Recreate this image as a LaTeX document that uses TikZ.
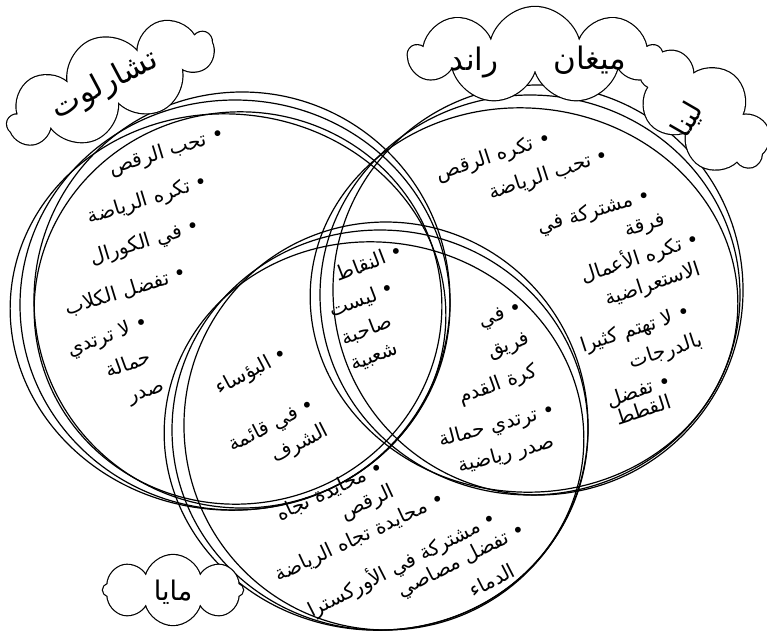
\documentclass[tikz,border=0pt]{standalone}
\usepackage{fontspec}
\newfontfamily\arabicfont[Script=Arabic]{DejaVu Sans}
\TeXXeTstate=1
\usetikzlibrary{shapes.symbols}
\newcommand\artxt[1]{\beginR #1\endR}
\tikzset{
  venn/.style={draw=black,line width=1.2pt},
  itm/.style={font=\arabicfont\fontsize{20}{24}\selectfont,inner sep=0pt},
  nm/.style={font=\arabicfont\fontsize{31}{34}\selectfont,inner sep=0pt},
  cloudA/.style={cloud,cloud ignores aspect,draw=black,fill=white,line width=2.4pt,inner sep=0pt},
  cloudB/.style={cloud,cloud ignores aspect,fill=white,inner sep=0pt},
}
\begin{document}
\begin{tikzpicture}[x=1pt,y=-1pt]
\useasboundingbox (0,0) rectangle (767,637);
% left circle (Charlotte)
\draw[venn] (235,305) ellipse [x radius=215pt,y radius=205pt];
\draw[venn] (242,300) ellipse [x radius=208pt,y radius=208pt,rotate=6];
\draw[venn] (228,312) ellipse [x radius=218pt,y radius=198pt,rotate=-5];
\draw[venn] (238,308) ellipse [x radius=204pt,y radius=196pt,rotate=8];
% right circle (Rand, Megan, Lina)
\draw[venn] (530,295) ellipse [x radius=210pt,y radius=200pt];
\draw[venn] (538,290) ellipse [x radius=205pt,y radius=205pt,rotate=6];
\draw[venn] (524,300) ellipse [x radius=214pt,y radius=192pt,rotate=-5];
% bottom circle (Maya)
\draw[venn] (380,430) ellipse [x radius=208pt,y radius=200pt];
\draw[venn] (386,426) ellipse [x radius=202pt,y radius=204pt,rotate=6];
\draw[venn] (374,436) ellipse [x radius=210pt,y radius=194pt,rotate=-6];
% clouds (union outline)
\node[cloudA,cloud puffs=9,minimum width=220pt,minimum height=95pt,rotate=24] (cc1) at (110,84) {};
\node[cloudA,cloud puffs=9,minimum width=250pt,minimum height=96pt] (cr1) at (535,55) {};
\node[cloudA,cloud puffs=7,minimum width=150pt,minimum height=95pt,rotate=-40] (cl1) at (703,112) {};
\node[cloudA,cloud puffs=8,minimum width=140pt,minimum height=70pt] (cm1) at (173,590) {};
\node[cloudB,cloud puffs=9,minimum width=220pt,minimum height=95pt,rotate=24] (cc2) at (110,84) {};
\node[cloudB,cloud puffs=9,minimum width=250pt,minimum height=96pt] (cr2) at (535,55) {};
\node[cloudB,cloud puffs=7,minimum width=150pt,minimum height=95pt,rotate=-40] (cl2) at (703,112) {};
\node[cloudB,cloud puffs=8,minimum width=140pt,minimum height=70pt] (cm2) at (173,590) {};
% names
\node[nm,rotate=28] (charlotte) at (105,85) {\artxt{تشارلوت}};
\node[nm] (rand) at (474,63) {\artxt{راند}};
\node[nm] (megan) at (590,60) {\artxt{ميغان}};
\node[nm,rotate=60,font=\arabicfont\fontsize{28}{30}\selectfont] (lina) at (688,120) {\artxt{لينا}};
\node[nm,font=\arabicfont\fontsize{27}{30}\selectfont] (maya) at (173,592) {\artxt{مايا}};
% left only
\node[itm,rotate=17] (l1) at (167,152) {\artxt{• تحب الرقص}};
\node[itm,rotate=17] (l2) at (148,200) {\artxt{• تكره الرياضة}};
\node[itm,rotate=17] (l3) at (145,243) {\artxt{• في الكورال}};
\node[itm,rotate=17] (l4) at (126,291) {\artxt{• تفضل الكلاب}};
\node[itm,rotate=20] (l5) at (108,337) {\artxt{• لا ترتدي}};
\node[itm,rotate=20] (l6) at (128,363) {\artxt{حمالة}};
\node[itm,rotate=20] (l7) at (147,395) {\artxt{صدر}};
% right only
\node[itm,rotate=18] (r1) at (494,157) {\artxt{• تكره الرقص}};
\node[itm,rotate=18] (r2) at (549,175) {\artxt{• تحب الرياضة}};
\node[itm,rotate=16] (r3) at (594,212) {\artxt{• مشتركة في}};
\node[itm,rotate=16] (r4) at (645,227) {\artxt{فرقة}};
\node[itm,rotate=18] (r5) at (640,257) {\artxt{• تكره الأعمال}};
\node[itm,rotate=18] (r6) at (653,285) {\artxt{الاستعراضية}};
\node[itm,rotate=18] (r7) at (636,330) {\artxt{• لا تهتم كثيرا}};
\node[itm,rotate=18] (r8) at (666,352) {\artxt{بالدرجات}};
\node[itm,rotate=18] (r9) at (639,391) {\artxt{• تفضل}};
\node[itm,rotate=18] (r10) at (643,409) {\artxt{القطط}};
% centre
\node[itm,rotate=21] (c1) at (369,262) {\artxt{• النقاط}};
\node[itm,rotate=21] (c2) at (362,300) {\artxt{• ليست}};
\node[itm,rotate=21] (c3) at (367,330) {\artxt{صاحبة}};
\node[itm,rotate=21] (c4) at (375,358) {\artxt{شعبية}};
% left and bottom
\node[itm,rotate=28] (lb1) at (252,372) {\artxt{• البؤساء}};
\node[itm,rotate=27] (lb2) at (272,426) {\artxt{• في قائمة}};
\node[itm,rotate=27] (lb3) at (300,444) {\artxt{الشرف}};
% right and bottom
\node[itm,rotate=20] (rb1) at (501,316) {\artxt{• في}};
\node[itm,rotate=20] (rb2) at (509,347) {\artxt{فريق}};
\node[itm,rotate=20] (rb3) at (498,385) {\artxt{كرة القدم}};
\node[itm,rotate=15] (rb4) at (497,426) {\artxt{• ترتدي حمالة}};
\node[itm,rotate=15] (rb5) at (506,455) {\artxt{صدر رياضية}};
% bottom only
\node[itm,rotate=25] (b1) at (330,491) {\artxt{• محايدة تجاه}};
\node[itm,rotate=25] (b2) at (368,503) {\artxt{الرقص}};
\node[itm,rotate=25] (b3) at (360,538) {\artxt{• محايدة تجاه الرياضة}};
\node[itm,rotate=27] (b4) at (402,564) {\artxt{• مشتركة في الأوركسترا}};
\node[itm,rotate=27] (b5) at (462,561) {\artxt{• تفضل مصاصي}};
\node[itm,rotate=27] (b6) at (492,580) {\artxt{الدماء}};
\end{tikzpicture}
\end{document}
